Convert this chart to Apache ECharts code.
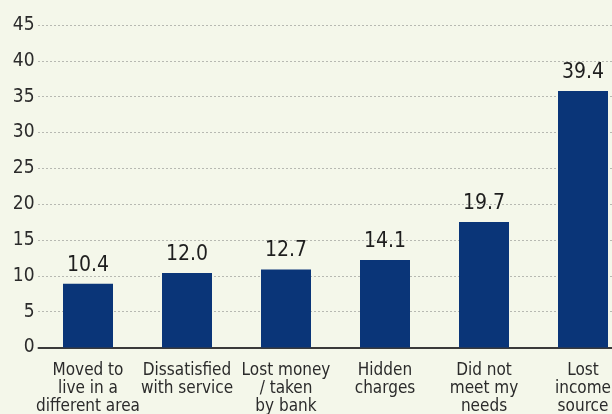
<!DOCTYPE html>
<html>
<head>
<meta charset="utf-8">
<script src="https://cdn.jsdelivr.net/npm/echarts@6/dist/echarts.min.js"></script>
<style>
  html, body { margin: 0; padding: 0; background: #f4f7ea; }
  #chart { width: 612px; height: 414px; }
</style>
</head>
<body>
<div id="chart"></div>
<script>
// data
const categories = [
  'Moved to\nlive in a\ndifferent area',
  'Dissatisfied\nwith service',
  'Lost money\n/ taken\nby bank',
  'Hidden\ncharges',
  'Did not\nmeet my\nneeds',
  'Lost\nincome\nsource'
];
// bar heights as drawn against the axis
const barHeights = [8.9, 10.4, 10.9, 12.2, 17.5, 35.8];
// printed value labels
const labelValues = ['10.4', '12.0', '12.7', '14.1', '19.7', '39.4'];
const yTicks = [0, 5, 10, 15, 20, 25, 30, 35, 40, 45];

const font = '"Liberation Sans Narrow", "DejaVu Sans Condensed", sans-serif';

const chart = echarts.init(document.getElementById('chart'), null, { renderer: 'canvas' });

const option = {
  backgroundColor: '#f4f7ea',
  animation: false,
  grid: {
    left: 38.5,
    right: -20.5,   // last category runs past the right edge
    top: 25,
    bottom: 66.5,
    containLabel: false,
    outerBoundsMode: 'none'
  },
  xAxis: {
    type: 'category',
    data: categories,
    axisLine: { show: true, lineStyle: { color: '#3a3a3a', width: 2 } },
    axisTick: { show: false },
    axisLabel: {
      interval: 0,
      color: '#2b2b2b',
      fontFamily: font,
      fontSize: 17,
      lineHeight: 18,
      margin: 14
    }
  },
  yAxis: {
    type: 'value',
    min: yTicks[0],
    max: yTicks[yTicks.length - 1],
    interval: 5,
    axisLine: { show: false },
    axisTick: { show: false },
    axisLabel: {
      color: '#2b2b2b',
      fontFamily: font,
      fontSize: 19,
      margin: 4
    },
    splitLine: {
      show: true,
      lineStyle: { color: '#7a7a7a', type: [1, 3], width: 1 }
    }
  },
  series: [
    {
      type: 'bar',
      data: barHeights,
      barWidth: 50,
      itemStyle: { color: '#0a3578' },
      label: {
        show: true,
        position: 'top',
        distance: 8,
        color: '#1e1e1e',
        fontFamily: font,
        fontSize: 21,
        formatter: (p) => labelValues[p.dataIndex]
      }
    }
  ]
};

chart.setOption(option);
</script>
</body>
</html>
